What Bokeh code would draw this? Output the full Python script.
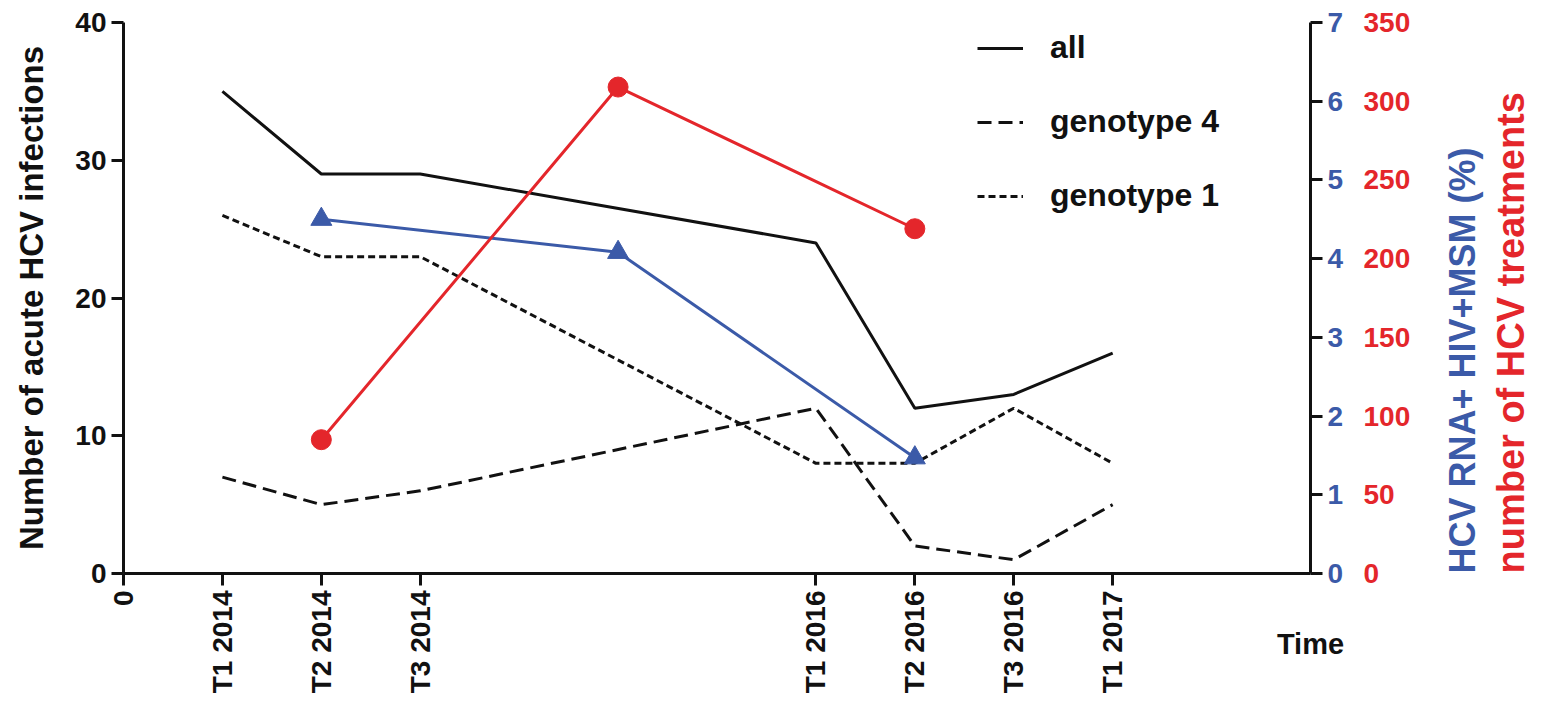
import math
from bokeh.plotting import figure
from bokeh.models import Range1d, LinearAxis, FixedTicker, Legend, LegendItem
from bokeh.embed import file_html
from bokeh.resources import INLINE

# ---- data ----
time_pos = [0, 1, 2, 3, 7, 8, 9, 10]
time_labels = ["0", "T1 2014", "T2 2014", "T3 2014", "T1 2016", "T2 2016", "T3 2016", "T1 2017"]

x_inf = [1, 2, 3, 7, 8, 9, 10]
all_inf = [35, 29, 29, 24, 12, 13, 16]
gen4 = [7, 5, 6, 12, 2, 1, 5]
gen1 = [26, 23, 23, 8, 8, 12, 8]

x_rna = [2, 5, 8]
rna_pct = [4.5, 4.08, 1.47]

x_treat = [2, 5, 8]
treatments = [85, 309, 219]

left_ticks = [0, 10, 20, 30, 40]
blue_ticks = [0, 1, 2, 3, 4, 5, 6, 7]
red_ticks = [0, 50, 100, 150, 200, 250, 300, 350]

BLUE = "#3b5aa8"
RED = "#e4262b"
BLACK = "#111111"
FONT = "Liberation Sans"

p = figure(width=1556, height=703, x_range=Range1d(0, 12), y_range=Range1d(0, 40),
           output_backend="svg", toolbar_location=None,
           min_border_left=123, min_border_right=246, min_border_top=22, min_border_bottom=130)
p.extra_y_ranges = {"blue": Range1d(0, 7), "red": Range1d(0, 350)}
p.outline_line_color = None
p.xgrid.visible = False
p.ygrid.visible = False
p.background_fill_color = "white"


def style_axis(ax, color=BLACK, size="28px"):
    ax.axis_line_width = 3
    ax.axis_line_color = BLACK
    ax.major_tick_line_width = 3
    ax.major_tick_line_color = BLACK
    ax.major_tick_out = 12
    ax.major_tick_in = 0
    ax.minor_tick_line_color = None
    ax.major_label_text_font = FONT
    ax.major_label_text_font_style = "bold"
    ax.major_label_text_font_size = size
    ax.major_label_text_color = color
    ax.major_label_standoff = 5


def style_title(ax, text, color, size, standoff):
    ax.axis_label = text
    ax.axis_label_text_font = FONT
    ax.axis_label_text_font_style = "bold"
    ax.axis_label_text_font_size = size
    ax.axis_label_text_color = color
    ax.axis_label_standoff = standoff


# x axis
xa = p.xaxis[0]
style_axis(xa)
xa.ticker = FixedTicker(ticks=time_pos)
xa.major_label_overrides = {t: l for t, l in zip(time_pos, time_labels)}
xa.major_label_orientation = math.pi / 2
style_title(xa, "Time", BLACK, "29px", -68)
xa.axis_label_align = "end"

# left axis
ya = p.yaxis[0]
style_axis(ya)
ya.ticker = FixedTicker(ticks=left_ticks)
style_title(ya, "Number of acute HCV infections", BLACK, "33px", 22)

# right axes
ba = LinearAxis(y_range_name="blue", ticker=FixedTicker(ticks=blue_ticks))
style_axis(ba, color=BLUE)
p.add_layout(ba, "right")

ra = LinearAxis(y_range_name="red", ticker=FixedTicker(ticks=red_ticks))
style_axis(ra, color=RED)
ra.axis_line_color = None
ra.major_tick_line_color = None
ra.major_tick_out = 0
ra.major_label_standoff = 17
style_title(ra, "HCV RNA+ HIV+MSM (%)", BLUE, "36px", 49)
ra.axis_label_orientation = math.pi / 2
ra.axis_label_align = "start"
p.add_layout(ra, "right")

ta = LinearAxis(y_range_name="red", ticker=FixedTicker(ticks=[]))
ta.axis_line_color = None
ta.major_tick_line_color = None
ta.major_tick_out = 0
ta.major_label_text_font_size = "0px"
ta.major_label_standoff = 0
style_title(ta, "number of HCV treatments", RED, "38px", 4)
ta.axis_label_orientation = math.pi / 2
ta.axis_label_align = "start"
p.add_layout(ta, "right")

# lines
r_all = p.line(x_inf, all_inf, line_color=BLACK, line_width=3)
r_g4 = p.line(x_inf, gen4, line_color=BLACK, line_width=3, line_dash="14 7")
r_g1 = p.line(x_inf, gen1, line_color=BLACK, line_width=3, line_dash="7 4")

p.line(x_rna, rna_pct, y_range_name="blue", line_color=BLUE, line_width=3)
p.scatter(x_rna, rna_pct, y_range_name="blue", marker="triangle", size=21,
          fill_color=BLUE, line_color=BLUE)

p.line(x_treat, treatments, y_range_name="red", line_color=RED, line_width=3)
p.scatter(x_treat, treatments, y_range_name="red", marker="circle", size=20,
          fill_color=RED, line_color=RED)

legend = Legend(items=[LegendItem(label="all", renderers=[r_all]),
                       LegendItem(label="genotype 4", renderers=[r_g4]),
                       LegendItem(label="genotype 1", renderers=[r_g1])],
                location=(854, 359))
legend.glyph_width = 46
legend.glyph_height = 36
legend.label_height = 36
legend.label_standoff = 27
legend.spacing = 37
legend.padding = 0
legend.margin = 0
legend.border_line_alpha = 0
legend.background_fill_alpha = 0
legend.label_text_font = FONT
legend.label_text_font_style = "bold"
legend.label_text_font_size = "32px"
legend.label_text_color = BLACK
p.add_layout(legend, "center")

open("out.html", "w").write(file_html(p, INLINE))
